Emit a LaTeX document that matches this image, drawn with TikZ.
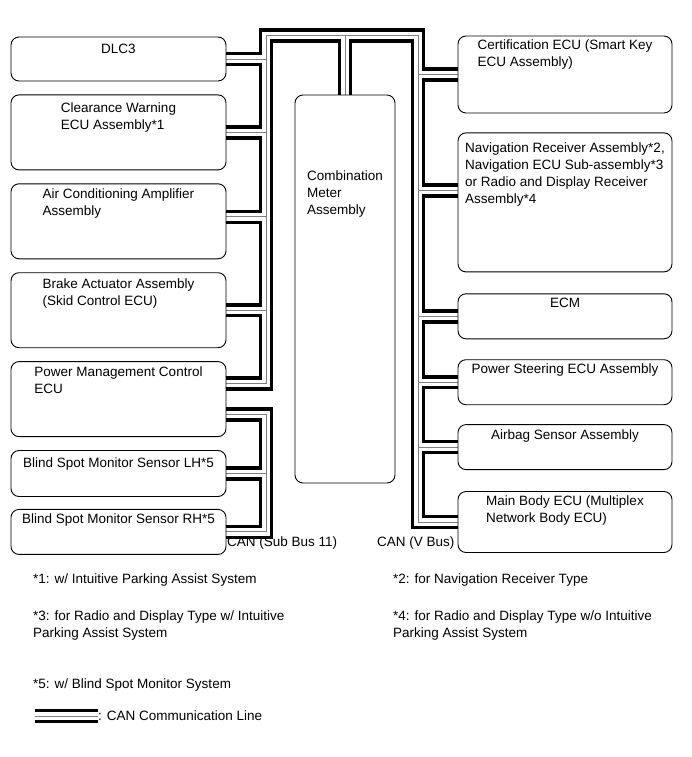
\documentclass[tikz,border=0pt]{standalone}
\usepackage{fontspec}
\setmainfont{Liberation Sans}
\usetikzlibrary{positioning,backgrounds}

\begin{document}
\begin{tikzpicture}[x=1pt, y=1pt, font=\fontsize{13.5}{17}\selectfont]

% definitions
\tikzstyle{ecu} = [rectangle, rounded corners=8pt, draw=black, line width=0.9pt, inner sep=0pt, minimum width=215pt]

\tikzstyle{ecutext} = [inner sep=0pt, align=left]

\tikzstyle{note} = [inner sep=0pt, anchor=north west, align=left]

\tikzstyle{canlabel} = [inner sep=0pt, anchor=west]

\useasboundingbox (0,0) rectangle (691,-757);

% left column
\node (l1) [ecu, minimum height=44pt] at (118.5,-59) {};
\node (l2) [ecu, minimum height=75pt, below=13pt of l1] {};
\node (l3) [ecu, minimum height=75pt, below=13pt of l2] {};
\node (l4) [ecu, minimum height=75pt, below=13pt of l3] {};
\node (l5) [ecu, minimum height=75pt, below=13pt of l4] {};
\node (l6) [ecu, minimum height=46pt, below=13pt of l5] {};
\node (l7) [ecu, minimum height=45pt, below=12pt of l6] {};

\node (l1t) [ecutext, below=7pt of l1.north] {DLC3};
\node (l2t) [ecutext, below=8pt of l2.north] {Clearance Warning\\ECU Assembly*1};
\node (l3t) [ecutext, below=5pt of l3.north] {Air Conditioning Amplifier\\Assembly};
\node (l4t) [ecutext, below=6pt of l4.north] {Brake Actuator Assembly\\(Skid Control ECU)};
\node (l5t) [ecutext, below=5pt of l5.north] {Power Management Control\\ECU};
\node (l6t) [ecutext, below=7pt of l6.north] {Blind Spot Monitor Sensor LH*5};
\node (l7t) [ecutext, below=5pt of l7.north] {Blind Spot Monitor Sensor RH*5};

% right column
\node (r1) [ecu, minimum width=214pt, minimum height=77pt] at (565,-74.5) {};
\node (r2) [ecu, minimum width=214pt, minimum height=139pt, below=19pt of r1] {};
\node (r3) [ecu, minimum width=214pt, minimum height=45pt, below=21pt of r2] {};
\node (r4) [ecu, minimum width=214pt, minimum height=45pt, below=20pt of r3] {};
\node (r5) [ecu, minimum width=214pt, minimum height=45pt, below=19pt of r4] {};
\node (r6) [ecu, minimum width=214pt, minimum height=61pt, below=21pt of r5] {};

\node (r1t) [ecutext, below=3.5pt of r1.north] {Certification ECU (Smart Key\\ECU Assembly)};
\node (r2t) [ecutext, below=10pt of r2.north] {Navigation Receiver Assembly*2,\\Navigation ECU Sub-assembly*3\\or Radio and Display Receiver\\Assembly*4};
\node (r3t) [ecutext, below=5pt of r3.north] {ECM};
\node (r4t) [ecutext, below=4pt of r4.north] {Power Steering ECU Assembly};
\node (r5t) [ecutext, below=5pt of r5.north] {Airbag Sensor Assembly};
\node (r6t) [ecutext, below=4pt of r6.north] {Main Body ECU (Multiplex\\Network Body ECU)};

% meter
\node (m) [ecu, minimum width=100pt, minimum height=388pt] at (345,-289) {};
\node (mt) [ecutext, below=76pt of m.north] {Combination\\Meter\\Assembly};

% bus names and notes
\node (sub) [canlabel] at (227,-543) {CAN (Sub Bus 11)};
\node (vbus) [canlabel] at (377,-543) {CAN (V Bus)};

\node (n1) [note] at (33,-573.5) {*1: w/ Intuitive Parking Assist System};
\node (n2) [note] at (393,-573.5) {*2: for Navigation Receiver Type};
\node (n3) [note] at (33,-610.5) {*3: for Radio and Display Type w/ Intuitive\\Parking Assist System};
\node (n4) [note] at (393,-610.5) {*4: for Radio and Display Type w/o Intuitive\\Parking Assist System};
\node (n5) [note] at (33,-678.5) {*5: w/ Blind Spot Monitor System};

\coordinate (lg) at (35,-716);
\node (lgt) [canlabel] at (98,-716) {: CAN Communication Line};

% CAN lines
\coordinate (lb) at (266,-35.5);
\coordinate (rb) at (418,-35.5);
\coordinate (l3s) at ([yshift=4.5pt]l3.east);
\coordinate (l5a) at ([yshift=15.5pt]l5.east);
\coordinate (l5b) at ([yshift=-15.5pt]l5.east);
\coordinate (r2s) at ([yshift=12pt]r2.west);

\begin{scope}[on background layer]
\foreach \w/\col in {14.5/black, 7.4/white, 0.9/gray} {
  \draw [line width=\w pt, draw=\col] (l5a) -- (l5a -| lb) -- (lb) -- (rb) -- (r6.west -| rb) -- (r6.west);
  \draw [line width=\w pt, draw=\col] (l5b) -- (l5b -| lb) -- (l7.east -| lb) -- (l7.east);
  \draw [line width=\w pt, draw=\col] (l1.east) -- (l1.east -| lb);
  \draw [line width=\w pt, draw=\col] (l2.east) -- (l2.east -| lb);
  \draw [line width=\w pt, draw=\col] (l3s) -- (l3s -| lb);
  \draw [line width=\w pt, draw=\col] (l4.east) -- (l4.east -| lb);
  \draw [line width=\w pt, draw=\col] (l6.east) -- (l6.east -| lb);
  \draw [line width=\w pt, draw=\col] (r1.west) -- (r1.west -| rb);
  \draw [line width=\w pt, draw=\col] (r2s) -- (r2s -| rb);
  \draw [line width=\w pt, draw=\col] (r3.west) -- (r3.west -| rb);
  \draw [line width=\w pt, draw=\col] (r4.west) -- (r4.west -| rb);
  \draw [line width=\w pt, draw=\col] (r5.west) -- (r5.west -| rb);
  \draw [line width=\w pt, draw=\col] (m.north |- lb) -- (m.north);
  \draw [line width=\w pt, draw=\col] (lg) -- (lgt.west);
}
\end{scope}

\end{tikzpicture}
\end{document}
